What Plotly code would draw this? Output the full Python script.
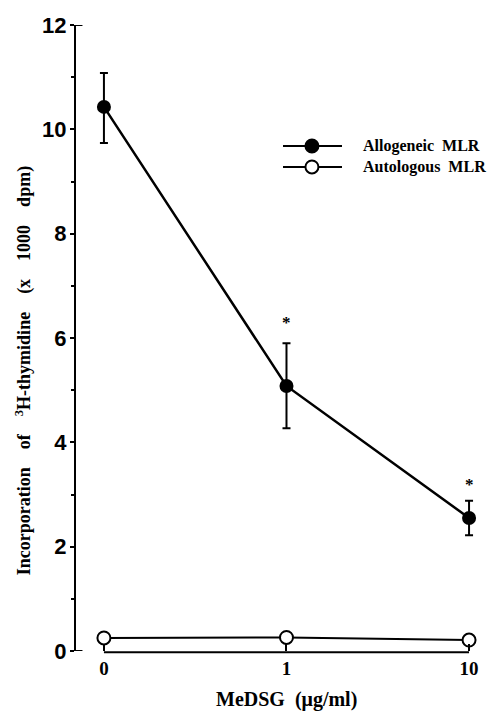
import plotly.graph_objects as go

categories = ["0", "1", "10"]
x_pos = [0, 1, 2]
series_names = ["Allogeneic\u00a0 MLR", "Autologous\u00a0 MLR"]
allo_mean = [10.43, 5.08, 2.55]
allo_err_plus = [0.65, 0.82, 0.33]
allo_err_minus = [0.69, 0.81, 0.33]
auto_mean = [0.25, 0.26, 0.21]
sig_x = [1, 2]
sig_y = [6.3, 3.2]
y_ticks = [0, 2, 4, 6, 8, 10, 12]

serif = "Liberation Serif"
sans = "Liberation Sans"
gap = "\u00a0\u00a0\u00a0 "

fig = go.Figure()
fig.add_trace(go.Scatter(
    x=x_pos, y=allo_mean, mode="lines+markers", name=series_names[0],
    line=dict(color="black", width=2.5),
    marker=dict(color="black", size=14, symbol="circle"),
    error_y=dict(type="data", array=allo_err_plus, arrayminus=allo_err_minus,
                 visible=True, color="black", thickness=2, width=4),
    showlegend=False,
))
fig.add_trace(go.Scatter(
    x=x_pos, y=auto_mean, mode="lines+markers", name=series_names[1],
    line=dict(color="black", width=2),
    marker=dict(color="white", size=13, symbol="circle",
                line=dict(color="black", width=2)),
    showlegend=False,
))

for sx, sy in zip(sig_x, sig_y):
    fig.add_annotation(x=sx, y=sy, text="*", showarrow=False,
                       font=dict(family=serif, size=17, color="black", weight="bold"))

# x-axis line only between first and last category
fig.add_shape(type="line", xref="x", yref="paper", x0=x_pos[0], x1=x_pos[-1],
              y0=-0.002, y1=-0.002, line=dict(color="black", width=2))
# small hooks at top and bottom of y axis
fig.add_shape(type="line", xref="paper", yref="y", x0=0, x1=0.016,
              y0=12, y1=12, line=dict(color="black", width=2))
fig.add_shape(type="line", xref="paper", yref="y", x0=0, x1=0.016,
              y0=0, y1=0, line=dict(color="black", width=2))

# manual legend
leg_y = [0.8067, 0.7732]
leg_fill = ["black", "white"]
for name, ly, fc in zip(series_names, leg_y, leg_fill):
    fig.add_shape(type="line", xref="paper", yref="paper", x0=0.5124, x1=0.6584,
                  y0=ly, y1=ly, line=dict(color="black", width=2))
    fig.add_shape(type="circle", xref="paper", yref="paper",
                  xsizemode="pixel", ysizemode="pixel",
                  xanchor=0.584, yanchor=ly, x0=-6.5, x1=6.5, y0=-6.5, y1=6.5,
                  fillcolor=fc, line=dict(color="black", width=2))
    fig.add_annotation(x=0.7054, y=ly, xref="paper", yref="paper",
                       xanchor="left", yanchor="middle", text=name, showarrow=False,
                       font=dict(family=serif, size=16, color="black", weight="bold"))

# x-axis title centred under the middle category
fig.add_annotation(x=1, xref="x", y=-0.078, yref="paper", yanchor="middle",
                   text="MeDSG\u00a0\u00a0(\u03bcg/ml)", showarrow=False,
                   font=dict(family=serif, size=20, color="black", weight="bold"))

# y-axis title
fig.add_annotation(x=0, xref="paper", xshift=-52, xanchor="center",
                   y=0.447, yref="paper", yanchor="middle", textangle=-90,
                   text="Incorporation" + gap + "of" + gap + "<sup>3</sup>H-thymidine" + gap
                        + "(x" + gap + "1000" + gap + "dpm)",
                   showarrow=False,
                   font=dict(family=serif, size=18, color="black", weight="bold"))

fig.update_layout(
    width=497, height=711,
    margin=dict(l=68, r=25, t=17, b=68, autoexpand=False),
    paper_bgcolor="white", plot_bgcolor="white",
    showlegend=False,
    xaxis=dict(range=[-0.153, 2.06], tickvals=x_pos, ticktext=categories,
               automargin=False,
               showline=False, showgrid=False, zeroline=False,
               ticks="inside", ticklen=7, tickwidth=2, tickcolor="black",
               ticklabelstandoff=4,
               tickfont=dict(family=serif, size=19, color="black", weight="bold")),
    yaxis=dict(range=[0, 12], tickvals=y_ticks, automargin=False,
               showline=True, linecolor="black", linewidth=2,
               showgrid=False, zeroline=False,
               ticks="outside", ticklen=4, tickwidth=2, tickcolor="black",
               ticklabelstandoff=-1,
               minor=dict(ticks="outside", ticklen=3, tickwidth=1.5,
                          tickcolor="black", dtick=1),
               tickfont=dict(family=sans, size=22, color="black", weight="bold")),
)

fig.write_html("out.html")
